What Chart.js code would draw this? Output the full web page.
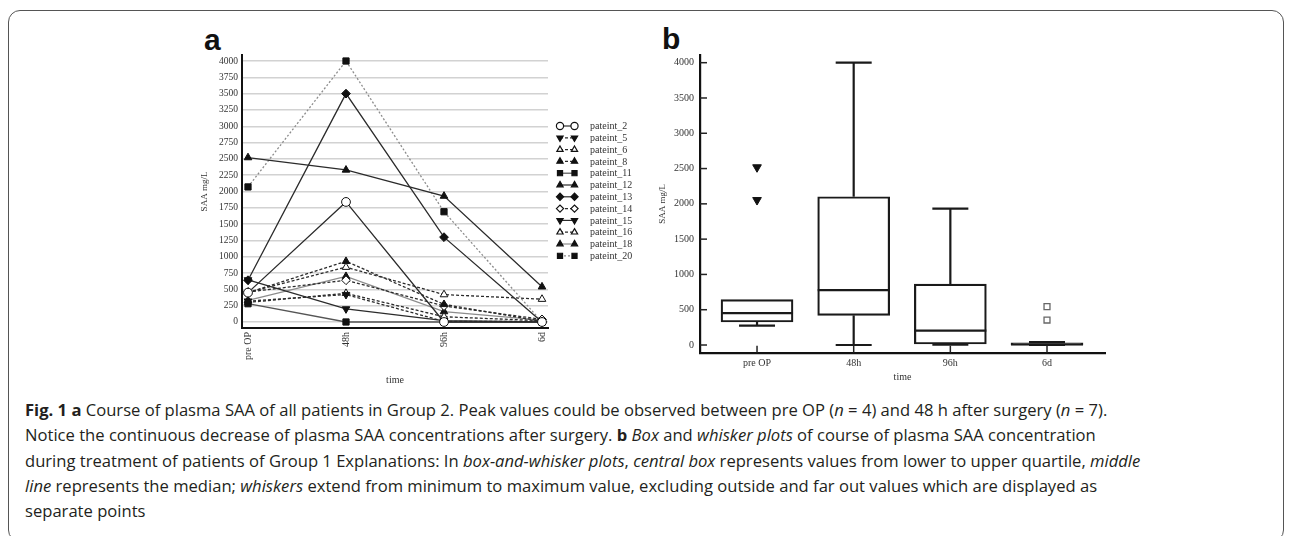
<!DOCTYPE html>
<html>
<head>
<meta charset="utf-8">
<script src="https://cdn.jsdelivr.net/npm/chart.js@4/dist/chart.umd.min.js"></script>
<style>
  html, body { margin: 0; padding: 0; background: #fff; }
  body { width: 1293px; height: 536px; position: relative; overflow: hidden; font-family: "Open Sans", sans-serif; }
  #frame { position: absolute; left: 8px; top: 10px; width: 1276px; height: 532px; border: 1.5px solid #555; border-radius: 12px; box-sizing: border-box; }
  .plabel { position: absolute; font-family: "Liberation Sans", Arial, sans-serif; font-weight: bold; font-size: 30px; color: #111; line-height: 1; }
  #wa { position: absolute; left: 195px; top: 20px; }
  #wb { position: absolute; left: 645px; top: 20px; }
  #caption { position: absolute; left: 25px; top: 397px; font-size: 16.6px; line-height: 25.3px; color: #231f20; white-space: nowrap; }
</style>
</head>
<body>
<div id="frame"></div>
<div class="plabel" style="left:204px;top:25px;">a</div>
<div class="plabel" style="left:662px;top:24px;">b</div>
<canvas id="wa" width="460" height="370"></canvas>
<canvas id="wb" width="480" height="370"></canvas>
<div id="caption">
<b>Fig. 1</b> <b>a</b> Course of plasma SAA of all patients in Group 2. Peak values could be observed between pre OP (<i>n</i> = 4) and 48 h after surgery (<i>n</i> = 7).<br>
Notice the continuous decrease of plasma SAA concentrations after surgery. <b>b</b> <i>Box</i> and <i>whisker plots</i> of course of plasma SAA concentration<br>
during treatment of patients of Group 1 Explanations: In <i>box-and-whisker plots</i>, <i>central box</i> represents values from lower to upper quartile, <i>middle</i><br>
<i>line</i> represents the median; <i>whiskers</i> extend from minimum to maximum value, excluding outside and far out values which are displayed as<br>
separate points
</div>
<script>
/* ========= DATA ========= */
const times = ["pre OP", "48h", "96h", "6d"];

// panel a: SAA mg/L per patient at each time point
const saa_p2  = [450, 1840, 0, 0];
const saa_p5  = [320, 420, 10, 10];
const saa_p6  = [455, 840, 420, 350];
const saa_p8  = [450, 930, 270, 10];
const saa_p11 = [280, 0, 0, 0];
const saa_p12 = [2520, 2330, 1930, 540];
const saa_p13 = [640, 3500, 1300, 0];
const saa_p14 = [460, 640, 245, 40];
const saa_p15 = [645, 200, 20, 0];
const saa_p16 = [300, 440, 80, 20];
const saa_p18 = [330, 700, 160, 30];
const saa_p20 = [2070, 4000, 1690, 0];

const yTicksA = [0, 250, 500, 750, 1000, 1250, 1500, 1750, 2000, 2250, 2500, 2750, 3000, 3250, 3500, 3750, 4000];

// panel b: box plot summary per time point
const boxLow  = [274, 0, 4, 0];
const boxQ1   = [326, 420, 14, 0];
const boxMed  = [453, 779, 203, 10];
const boxQ3   = [642, 2101, 864, 30];
const boxHigh = [642, 4000, 1931, 42];
const outPreOp = [2518, 2054];
const out6d    = [543, 354];

const yTicksB = [0, 500, 1000, 1500, 2000, 2500, 3000, 3500, 4000];

/* ========= STYLES ========= */
const DARK = "#2b2b2b", GRAY = "#8c8c8c", INK = "#111";
const serif = "'Liberation Serif', 'Times New Roman', serif";

const patients = [
  { label: "pateint_2",  data: saa_p2,  style: "circle",   rot: 0,   open: true,  color: DARK, dash: [] },
  { label: "pateint_5",  data: saa_p5,  style: "triangle", rot: 180, open: false, color: DARK, dash: [3, 2] },
  { label: "pateint_6",  data: saa_p6,  style: "triangle", rot: 0,   open: true,  color: DARK, dash: [3, 2] },
  { label: "pateint_8",  data: saa_p8,  style: "triangle", rot: 0,   open: false, color: DARK, dash: [3, 2] },
  { label: "pateint_11", data: saa_p11, style: "rect",     rot: 0,   open: false, color: "#555", dash: [] },
  { label: "pateint_12", data: saa_p12, style: "triangle", rot: 0,   open: false, color: DARK, dash: [] },
  { label: "pateint_13", data: saa_p13, style: "rectRot",  rot: 0,   open: false, color: DARK, dash: [] },
  { label: "pateint_14", data: saa_p14, style: "rectRot",  rot: 0,   open: true,  color: DARK, dash: [3, 2] },
  { label: "pateint_15", data: saa_p15, style: "triangle", rot: 180, open: false, color: DARK, dash: [] },
  { label: "pateint_16", data: saa_p16, style: "triangle", rot: 0,   open: true,  color: DARK, dash: [3, 2] },
  { label: "pateint_18", data: saa_p18, style: "triangle", rot: 0,   open: false, color: GRAY, dash: [] },
  { label: "pateint_20", data: saa_p20, style: "rect",     rot: 0,   open: false, color: GRAY, dash: [2, 2] }
];

function drawMarker(ctx, style, rot, r, x, y) {
  if (Chart.helpers && Chart.helpers.drawPoint) {
    Chart.helpers.drawPoint(ctx, { pointStyle: style, rotation: rot, radius: r, borderWidth: 1 }, x, y);
  } else {
    ctx.beginPath(); ctx.arc(x, y, r, 0, Math.PI * 2); ctx.fill(); ctx.stroke();
  }
}

/* ========= PANEL A ========= */
const legendPlugin = {
  id: "sideLegend",
  afterDraw(chart) {
    const ctx = chart.ctx;
    const left = chart.chartArea.right;
    ctx.save();
    patients.forEach((p, i) => {
      const y = 106 + i * 11.8;
      ctx.strokeStyle = p.color;
      ctx.lineWidth = 1.2;
      ctx.setLineDash(p.dash);
      ctx.beginPath(); ctx.moveTo(left + 12, y); ctx.lineTo(left + 26.5, y); ctx.stroke();
      ctx.setLineDash([]);
      ctx.strokeStyle = INK;
      ctx.fillStyle = p.open ? "#fff" : INK;
      drawMarker(ctx, p.style, p.rot, 3.6, left + 12, y);
      ctx.strokeStyle = INK;
      ctx.fillStyle = p.open ? "#fff" : INK;
      drawMarker(ctx, p.style, p.rot, 3.6, left + 26.5, y);
      ctx.fillStyle = "#333";
      ctx.font = "10px " + serif;
      ctx.textBaseline = "middle";
      ctx.fillText(p.label, left + 42, y + 0.5);
    });
    ctx.restore();
  }
};

new Chart(document.getElementById("wa"), {
  type: "line",
  data: {
    datasets: patients.map(p => ({
      label: p.label,
      data: p.data.map((v, i) => ({ x: i, y: v })),
      borderColor: p.color,
      borderWidth: 1.3,
      borderDash: p.dash,
      tension: 0,
      pointStyle: p.style,
      rotation: p.rot,
      pointRadius: 4.4,
      pointBorderWidth: 1,
      pointBorderColor: INK,
      pointBackgroundColor: p.open ? "#fff" : INK
    }))
  },
  options: {
    responsive: false,
    animation: false,
    layout: { padding: { top: 35, right: 107, bottom: 0, left: 0 } },
    plugins: { legend: { display: false }, tooltip: { enabled: false } },
    scales: {
      x: {
        type: "linear",
        min: -0.0612, max: 3.0612,
        afterBuildTicks: s => { s.ticks = times.map((t, i) => ({ value: i })); },
        afterFit: s => { s.height = 62; },
        grid: { display: false, drawTicks: false },
        border: { color: INK, width: 2 },
        ticks: {
          callback: v => times[v],
          autoSkip: false, minRotation: 90, maxRotation: 90, padding: 4,
          color: "#333", font: { family: serif, size: 10 }
        },
        title: { display: true, text: "time", color: "#333", font: { family: serif, size: 10 }, padding: { top: 0, bottom: 4 } }
      },
      y: {
        min: -92, max: 4092,
        afterBuildTicks: s => { s.ticks = yTicksA.map(v => ({ value: v })); },
        afterFit: s => { s.width = 47; },
        grid: { color: "#d2d2d2", lineWidth: 1.5, drawTicks: false },
        border: { color: INK, width: 2 },
        ticks: { callback: v => String(v), padding: 4, color: "#333", font: { family: serif, size: 9.5 } },
        title: { display: true, text: "SAA mg/L", color: "#333", font: { family: serif, size: 9 }, padding: { top: 4, bottom: 0 } }
      }
    }
  },
  plugins: [legendPlugin]
});

/* ========= PANEL B ========= */
const whiskerPlugin = {
  id: "whiskers",
  afterDatasetsDraw(chart) {
    const ctx = chart.ctx;
    const y = chart.scales.y;
    const meta = chart.getDatasetMeta(0);
    ctx.save();
    ctx.strokeStyle = "#1a1a1a";
    ctx.lineWidth = 2.2;
    meta.data.forEach((bar, i) => {
      const cx = bar.x, hw = bar.width / 2, cap = hw / 2;
      const seg = (x1, y1, x2, y2) => { ctx.beginPath(); ctx.moveTo(x1, y1); ctx.lineTo(x2, y2); ctx.stroke(); };
      // median
      seg(cx - hw, y.getPixelForValue(boxMed[i]), cx + hw, y.getPixelForValue(boxMed[i]));
      // upper whisker
      if (boxHigh[i] > boxQ3[i]) {
        seg(cx, y.getPixelForValue(boxQ3[i]), cx, y.getPixelForValue(boxHigh[i]));
        seg(cx - cap, y.getPixelForValue(boxHigh[i]), cx + cap, y.getPixelForValue(boxHigh[i]));
      }
      // lower whisker
      seg(cx, y.getPixelForValue(boxQ1[i]), cx, y.getPixelForValue(boxLow[i]));
      seg(cx - cap, y.getPixelForValue(boxLow[i]), cx + cap, y.getPixelForValue(boxLow[i]));
    });
    ctx.restore();
  },
  afterDraw(chart) {
    // short inward tick marks
    const { ctx, chartArea: a, scales: { x, y } } = chart;
    ctx.save();
    ctx.strokeStyle = "#222";
    ctx.lineWidth = 1.5;
    y.ticks.forEach(t => {
      const py = y.getPixelForValue(t.value);
      ctx.beginPath(); ctx.moveTo(a.left, py); ctx.lineTo(a.left + 7, py); ctx.stroke();
    });
    x.ticks.forEach(t => {
      const px = x.getPixelForValue(t.value);
      ctx.beginPath(); ctx.moveTo(px, a.bottom); ctx.lineTo(px, a.bottom - 7); ctx.stroke();
    });
    ctx.restore();
  }
};

new Chart(document.getElementById("wb"), {
  type: "bar",
  data: {
    datasets: [
      {
        type: "bar",
        data: boxQ1.map((q, i) => ({ x: i, y: [q, boxQ3[i]] })),
        backgroundColor: "#fff",
        borderColor: "#1a1a1a",
        borderWidth: 2.2,
        borderSkipped: false,
        barThickness: 72
      },
      {
        type: "scatter",
        data: outPreOp.map(v => ({ x: 0, y: v })),
        pointStyle: "triangle",
        rotation: 180,
        pointRadius: 5,
        backgroundColor: INK,
        borderColor: INK,
        borderWidth: 1
      },
      {
        type: "scatter",
        data: out6d.map(v => ({ x: 3, y: v })),
        pointStyle: "rect",
        pointRadius: 4.2,
        backgroundColor: "#fff",
        borderColor: "#666",
        borderWidth: 1.3
      }
    ]
  },
  options: {
    responsive: false,
    animation: false,
    layout: { padding: { top: 35, right: 20, bottom: 0, left: 0 } },
    plugins: { legend: { display: false }, tooltip: { enabled: false } },
    scales: {
      x: {
        type: "linear",
        min: -0.59, max: 3.6,
        offset: false,
        afterBuildTicks: s => { s.ticks = times.map((t, i) => ({ value: i })); },
        afterFit: s => { s.height = 37.3; },
        grid: { display: false, drawTicks: false },
        border: { color: INK, width: 2.2 },
        ticks: { callback: v => times[v], autoSkip: false, maxRotation: 0, padding: 5, color: "#333", font: { family: serif, size: 10 } },
        title: { display: true, text: "time", color: "#333", font: { family: serif, size: 10 }, padding: { top: 0, bottom: 7 } }
      },
      y: {
        min: -109, max: 4109,
        afterBuildTicks: s => { s.ticks = yTicksB.map(v => ({ value: v })); },
        afterFit: s => { s.width = 55; },
        grid: { display: false, drawTicks: false },
        border: { color: INK, width: 2.2 },
        ticks: { callback: v => String(v), padding: 6, color: "#333", font: { family: serif, size: 10 } },
        title: { display: true, text: "SAA mg/L", color: "#333", font: { family: serif, size: 9 }, padding: { top: 12, bottom: 0 } }
      }
    }
  },
  plugins: [whiskerPlugin]
});
</script>
</body>
</html>
